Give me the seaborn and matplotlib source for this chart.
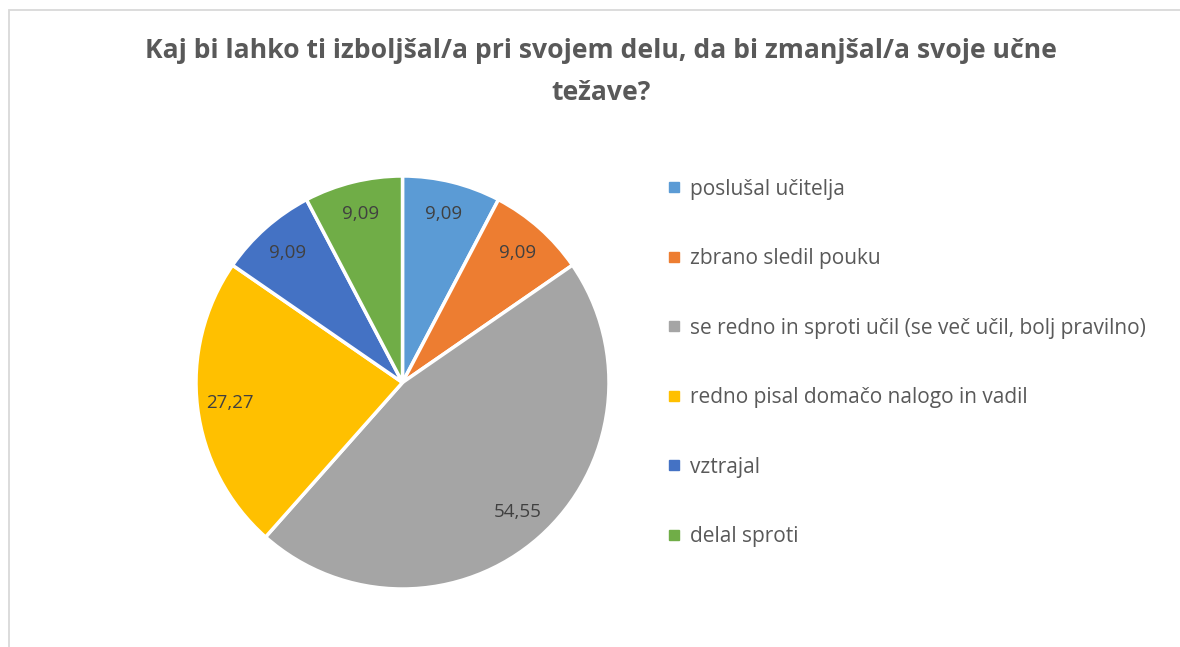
import matplotlib
matplotlib.use("Agg")
import matplotlib.pyplot as plt
from matplotlib.patches import Rectangle
from matplotlib.lines import Line2D
import numpy as np
import seaborn as sns

# Survey answers and their shares (%)
categories = [
    "poslušal učitelja",
    "zbrano sledil pouku",
    "se redno in sproti učil (se več učil, bolj pravilno)",
    "redno pisal domačo nalogo in vadil",
    "vztrajal",
    "delal sproti",
]
values = [9.09, 9.09, 54.55, 27.27, 9.09, 9.09]
title = "Kaj bi lahko ti izboljšal/a pri svojem delu, da bi zmanjšal/a svoje učne\ntežave?"
colors = ["#5B9BD5", "#ED7D31", "#A5A5A5", "#FFC000", "#4472C4", "#70AD47"]

sns.set_theme(style="white")
plt.rcParams["font.family"] = ["Open Sans", "DejaVu Sans"]
palette = sns.color_palette(colors)

W, H = 1180, 647
fig = plt.figure(figsize=(W / 100, H / 100), dpi=100)
fig.patch.set_facecolor("white")

# Chart area frame
fig.add_artist(Rectangle((8.5 / W, -0.05), 1.2, 1 - 9.5 / H + 0.05,
                         transform=fig.transFigure, fill=False,
                         edgecolor="#d9d9d9", lw=1.3))

# Pie axes placed as a square box
cx, cy, r = 402.5, 382.5, 206.5
ax = fig.add_axes([(cx - r) / W, (H - cy - r) / H, 2 * r / W, 2 * r / H])
wedges, _ = ax.pie(values, colors=palette, startangle=90, counterclock=False,
                   radius=1.0,
                   wedgeprops=dict(edgecolor="white", linewidth=2.5))
ax.set_xlim(-1, 1)
ax.set_ylim(-1, 1)
ax.set_aspect("equal")
ax.axis("off")

# Value labels inside the slices
total = sum(values)
start = 90.0
for v in values:
    sweep = 360.0 * v / total
    mid = np.deg2rad(start - sweep / 2)
    rr = 0.84
    ax.text(rr * np.cos(mid), rr * np.sin(mid), f"{v:.2f}".replace(".", ","),
            ha="center", va="center", fontsize=13.5, color="#404040")
    start -= sweep

fig.text(601 / W, 1 - 72 / H, title, ha="center", va="center",
         fontsize=19.1, fontweight="bold", color="#595959", linespacing=1.75)

handles = [Line2D([0], [0], marker="s", linestyle="none", markersize=7,
                  markerfacecolor=c, markeredgecolor=c) for c in palette]
leg = fig.legend(handles, categories, loc="upper left",
                 bbox_to_anchor=(666 / W, 1 - 178.5 / H), frameon=False,
                 fontsize=15, labelspacing=2.33, handlelength=0.75,
                 handletextpad=0.4, borderpad=0, borderaxespad=0)
for t in leg.get_texts():
    t.set_color("#595959")

fig.savefig("out.png", dpi=100)
